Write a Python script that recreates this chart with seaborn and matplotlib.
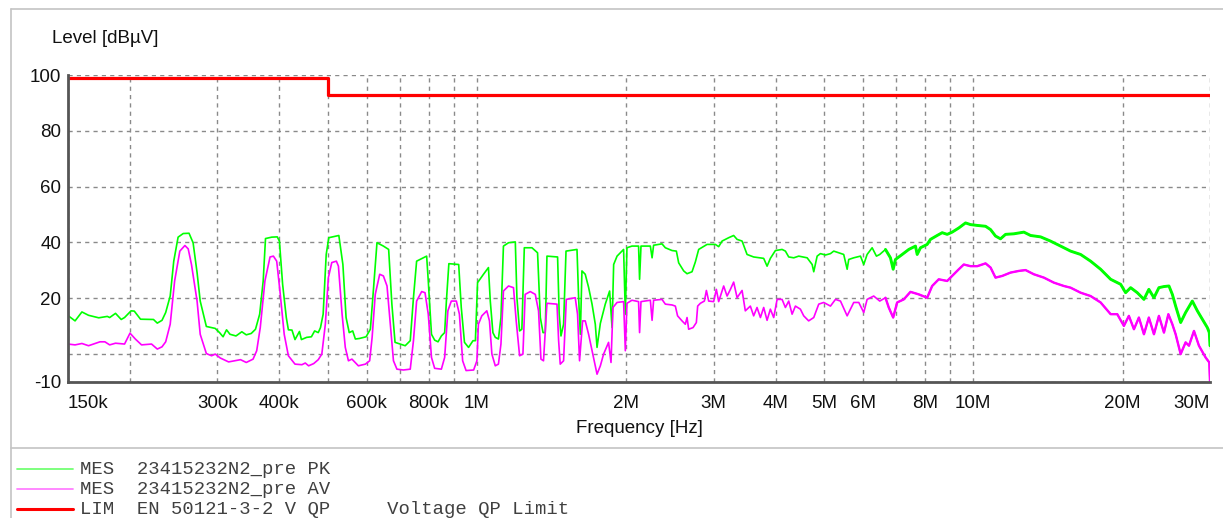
import numpy as np
import pandas as pd
import matplotlib.pyplot as plt
import seaborn as sns
from matplotlib.lines import Line2D
from matplotlib.ticker import FixedLocator, FixedFormatter, NullLocator

# Peak trace (frequency in MHz, level in dBuV)
pk_freq_mhz = [
    0.150, 0.155, 0.160, 0.165, 0.173, 0.180, 0.182, 0.187, 0.192, 0.195,
    0.201, 0.204, 0.210, 0.223, 0.227, 0.232, 0.236, 0.241, 0.245, 0.250,
    0.256, 0.263, 0.268, 0.273, 0.277, 0.285, 0.297, 0.303, 0.308, 0.313,
    0.318, 0.327, 0.336, 0.343, 0.351, 0.358, 0.365, 0.371, 0.375, 0.386,
    0.396, 0.400, 0.406, 0.413, 0.417, 0.424, 0.430, 0.439, 0.443, 0.454,
    0.464, 0.471, 0.479, 0.484, 0.490, 0.497, 0.503, 0.527, 0.537, 0.545,
    0.553, 0.562, 0.569, 0.580, 0.598, 0.610, 0.617, 0.629, 0.648, 0.664,
    0.674, 0.684, 0.700, 0.717, 0.734, 0.745, 0.756, 0.792, 0.798, 0.810,
    0.822, 0.835, 0.848, 0.861, 0.868, 0.878, 0.919, 0.930, 0.944, 0.962,
    0.982, 0.993, 1.003, 1.031, 1.055, 1.064, 1.077, 1.089, 1.105, 1.118,
    1.131, 1.158, 1.195, 1.204, 1.219, 1.232, 1.246, 1.291, 1.325, 1.342,
    1.359, 1.373, 1.384, 1.454, 1.465, 1.477, 1.495, 1.512, 1.591, 1.603,
    1.616, 1.628, 1.653, 1.679, 1.706, 1.732, 1.746, 1.773, 1.814, 1.851,
    1.872, 1.886, 1.916, 1.975, 1.991, 2.006, 2.053, 2.117, 2.127, 2.141,
    2.236, 2.254, 2.270, 2.360, 2.397, 2.473, 2.523, 2.550, 2.610, 2.651,
    2.713, 2.755, 2.798, 2.909, 3.023, 3.070, 3.119, 3.216, 3.291, 3.344,
    3.422, 3.502, 3.611, 3.783, 3.843, 3.902, 3.994, 4.120, 4.184, 4.249,
    4.349, 4.451, 4.628, 4.737, 4.772, 4.848, 4.922, 5.038, 5.157, 5.236,
    5.358, 5.484, 5.572, 5.613, 5.745, 5.927, 6.018, 6.113, 6.257, 6.383,
    6.482, 6.656, 6.812, 6.898, 6.971, 7.193, 7.417, 7.650, 7.711, 7.830,
    8.077, 8.201, 8.460, 8.659, 8.863, 9.071, 9.354, 9.650, 9.876, 10.19,
    10.59, 10.84, 11.09, 11.35, 11.62, 12.08, 12.65, 13.05, 13.67, 14.31,
    15.00, 15.71, 16.46, 17.24, 18.06, 18.92, 19.82, 20.28, 20.76, 21.41,
    22.08, 22.59, 23.13, 23.67, 24.23, 24.80, 25.19, 25.58, 26.18, 26.79,
    27.64, 28.29, 28.95, 29.63, 29.90, 30.00,
]
pk_level = [
    13.8, 11.9, 15.1, 13.9, 13.0, 13.5, 13.1, 14.6, 12.4, 13.1,
    15.5, 15.4, 12.5, 12.4, 11.1, 12.1, 14.9, 20.8, 33.3, 41.9,
    43.2, 43.3, 39.9, 29.2, 19.0, 9.9, 9.2, 7.7, 6.2, 8.7,
    7.1, 6.5, 8.0, 6.9, 7.4, 8.9, 14.3, 26.2, 41.4, 41.9,
    42.0, 40.5, 25.0, 13.1, 8.7, 8.6, 5.2, 8.1, 5.2, 6.0,
    6.2, 8.3, 7.7, 9.5, 14.3, 35.7, 41.7, 42.5, 32.1, 13.1,
    7.7, 8.3, 5.4, 5.6, 6.2, 8.9, 20.2, 39.9, 38.7, 37.5,
    17.9, 4.2, 3.6, 3.0, 4.8, 20.2, 33.3, 35.1, 26.2, 7.1,
    5.0, 4.4, 6.5, 7.7, 19.0, 32.4, 32.1, 16.7, 4.2, 2.4,
    4.8, 4.8, 25.6, 28.6, 31.0, 19.0, 7.7, 6.0, 5.4, 13.1,
    38.7, 39.9, 40.2, 20.2, 8.3, 8.9, 38.1, 38.1, 36.3, 13.1,
    7.7, 7.7, 35.1, 34.8, 14.3, 6.5, 10.7, 36.9, 37.5, 20.2,
    7.1, 29.8, 28.6, 23.9, 17.9, 10.7, 2.4, 11.0, 17.9, 22.6,
    9.5, 32.1, 35.1, 37.5, 14.3, 38.1, 38.7, 38.7, 26.8, 38.7,
    38.7, 34.5, 39.0, 39.5, 38.1, 37.1, 36.9, 32.7, 29.8, 28.8,
    29.5, 33.0, 37.5, 39.3, 39.3, 38.5, 40.5, 41.7, 42.5, 41.1,
    40.5, 35.7, 34.8, 34.3, 31.5, 34.3, 37.1, 37.5, 36.9, 34.8,
    34.5, 35.1, 34.5, 32.1, 29.5, 35.1, 36.0, 35.5, 36.0, 36.9,
    36.3, 35.7, 30.4, 33.9, 34.5, 35.1, 32.1, 35.7, 38.1, 35.1,
    35.7, 37.5, 34.5, 30.4, 33.9, 35.7, 37.5, 38.7, 35.7, 38.1,
    39.3, 41.1, 42.5, 43.5, 42.9, 43.7, 45.2, 47.0, 46.4, 46.1,
    45.8, 44.6, 42.3, 41.3, 42.9, 43.1, 43.7, 42.5, 42.0, 40.5,
    38.7, 36.9, 35.7, 33.3, 30.4, 26.8, 25.0, 22.0, 23.8, 22.0,
    19.6, 23.2, 20.2, 23.8, 24.2, 24.4, 21.4, 17.2, 11.3, 14.9,
    19.0, 15.5, 12.5, 9.5, 7.7, 3.0,
]

# Average trace
av_freq_mhz = [
    0.150, 0.155, 0.160, 0.165, 0.174, 0.178, 0.182, 0.187, 0.195, 0.200,
    0.205, 0.211, 0.221, 0.227, 0.232, 0.236, 0.241, 0.246, 0.252, 0.258,
    0.262, 0.266, 0.273, 0.277, 0.285, 0.292, 0.297, 0.304, 0.316, 0.334,
    0.343, 0.354, 0.360, 0.366, 0.374, 0.383, 0.389, 0.395, 0.401, 0.409,
    0.417, 0.430, 0.444, 0.451, 0.458, 0.469, 0.479, 0.487, 0.495, 0.502,
    0.510, 0.521, 0.526, 0.535, 0.543, 0.551, 0.560, 0.577, 0.596, 0.608,
    0.615, 0.624, 0.637, 0.648, 0.659, 0.669, 0.679, 0.690, 0.711, 0.734,
    0.745, 0.756, 0.774, 0.786, 0.798, 0.810, 0.822, 0.848, 0.861, 0.874,
    0.888, 0.909, 0.922, 0.936, 0.951, 0.985, 1.000, 1.007, 1.023, 1.047,
    1.060, 1.072, 1.089, 1.105, 1.118, 1.131, 1.158, 1.185, 1.200, 1.219,
    1.238, 1.251, 1.281, 1.311, 1.331, 1.346, 1.362, 1.384, 1.450, 1.461,
    1.472, 1.495, 1.514, 1.578, 1.595, 1.610, 1.633, 1.653, 1.679, 1.718,
    1.746, 1.773, 1.800, 1.842, 1.863, 1.880, 1.916, 1.975, 1.991, 2.006,
    2.053, 2.117, 2.127, 2.141, 2.236, 2.254, 2.270, 2.360, 2.397, 2.473,
    2.511, 2.537, 2.590, 2.630, 2.651, 2.671, 2.726, 2.768, 2.785, 2.820,
    2.873, 2.900, 2.931, 2.999, 3.037, 3.070, 3.142, 3.192, 3.242, 3.291,
    3.344, 3.422, 3.474, 3.556, 3.611, 3.668, 3.726, 3.783, 3.843, 3.902,
    3.963, 4.026, 4.120, 4.184, 4.249, 4.316, 4.383, 4.485, 4.555, 4.661,
    4.772, 4.884, 4.998, 5.157, 5.278, 5.402, 5.572, 5.745, 5.881, 6.018,
    6.113, 6.303, 6.482, 6.656, 6.758, 6.898, 7.027, 7.246, 7.474, 7.767,
    8.077, 8.266, 8.522, 8.863, 9.138, 9.354, 9.573, 9.876, 10.19, 10.59,
    10.84, 11.09, 11.44, 11.89, 12.36, 12.75, 13.25, 13.88, 14.54, 15.23,
    15.71, 16.46, 17.24, 18.06, 18.92, 19.51, 20.12, 20.59, 21.08, 21.57,
    22.08, 22.59, 23.13, 23.67, 24.23, 24.73, 25.19, 25.58, 26.18, 26.79,
    27.21, 27.85, 28.50, 29.39, 29.90, 30.00,
]
av_level = [
    3.6, 3.3, 3.8, 3.0, 4.4, 4.4, 3.3, 3.9, 3.6, 7.5,
    5.4, 3.3, 3.6, 1.8, 2.6, 4.4, 10.7, 26.2, 36.9, 38.9,
    37.7, 32.1, 19.0, 7.1, 0.2, -0.6, 0.0, -1.4, -2.8, -2.0,
    -3.0, -1.8, 1.2, 9.5, 26.2, 34.8, 35.1, 33.3, 22.6, 7.1,
    -0.6, -3.6, -3.8, -3.2, -4.2, -3.4, -2.0, 0.0, 10.7, 27.4,
    32.8, 33.3, 31.5, 14.3, 2.4, -2.4, -1.8, -4.2, -3.6, -2.4,
    6.0, 21.4, 28.6, 28.0, 24.4, 10.7, -2.4, -5.4, -5.7, -5.4,
    4.8, 19.0, 22.4, 22.0, 14.3, -1.2, -5.1, -5.4, -1.2, 15.5,
    19.0, 19.0, 14.3, -2.4, -5.9, -5.7, -2.4, 10.7, 13.7, 15.5,
    11.9, 0.0, -4.2, -3.6, 3.6, 22.6, 24.4, 23.8, 11.9, -0.6,
    0.0, 21.4, 22.4, 21.4, 15.5, -1.8, -2.4, 18.2, 17.9, 4.8,
    -3.6, -2.4, 19.6, 20.2, 14.3, -2.4, 11.9, 11.9, 7.1, -1.2,
    -7.2, -4.2, 0.0, 4.2, -3.0, 16.7, 18.5, 18.8, 1.2, 18.2,
    19.3, 18.8, 7.7, 18.8, 19.3, 12.1, 19.3, 19.6, 17.9, 17.6,
    17.2, 13.7, 11.9, 10.7, 13.1, 8.9, 9.5, 11.3, 17.2, 18.2,
    19.0, 22.8, 19.0, 18.8, 23.2, 18.8, 24.4, 20.8, 23.2, 25.8,
    20.2, 22.8, 15.5, 17.2, 13.7, 16.7, 13.1, 16.7, 12.1, 16.1,
    13.1, 19.6, 19.6, 16.7, 19.0, 14.3, 17.2, 16.1, 13.7, 11.9,
    13.1, 17.9, 18.5, 17.2, 19.6, 19.0, 13.7, 18.5, 18.5, 14.9,
    19.6, 20.8, 19.0, 20.2, 16.7, 13.1, 18.5, 19.6, 22.3, 21.4,
    20.2, 24.4, 26.8, 26.2, 28.6, 30.4, 32.1, 31.5, 31.5, 32.5,
    31.0, 27.4, 28.0, 29.2, 29.8, 30.1, 28.6, 27.4, 25.6, 24.4,
    23.8, 22.0, 20.8, 18.5, 14.3, 14.3, 10.1, 13.7, 8.9, 13.1,
    7.1, 13.1, 7.1, 13.7, 7.7, 14.3, 10.7, 7.1, 0.0, 4.2,
    3.0, 8.3, 3.0, -1.2, -3.0, -9.9,
]

# EN 50121-3-2 QP limit (steps)
lim_freq_mhz = [0.15, 0.5, 30.0]
lim_level = [99.0, 93.0, 93.0]

x_ticks_mhz = [0.15, 0.2, 0.3, 0.4, 0.5, 0.6, 0.7, 0.8, 0.9,
               1, 2, 3, 4, 5, 6, 7, 8, 9, 10, 20, 30]
x_tick_labels = ["150k", "", "300k", "400k", "", "600k", "", "800k", "",
                 "1M", "2M", "3M", "4M", "5M", "6M", "", "8M", "", "10M", "20M", "30M"]
y_ticks = [-10, 0, 20, 40, 60, 80, 100]
y_tick_labels = ["-10", "", "20", "40", "60", "80", "100"]

legend_labels = ["MES  23415232N2_pre PK",
                 "MES  23415232N2_pre AV",
                 "LIM  EN 50121-3-2 V QP     Voltage QP Limit"]
pk_color = "#00ff00"
av_color = "#ff00ff"
lim_color = "#ff0000"

sns.set_style("white")
plt.rcParams["font.family"] = ["Liberation Sans", "DejaVu Sans"]

pk = pd.DataFrame({"freq": np.array(pk_freq_mhz) * 1e6, "level": pk_level})
av = pd.DataFrame({"freq": np.array(av_freq_mhz) * 1e6, "level": av_level})
lim = pd.DataFrame({"freq": np.array(lim_freq_mhz) * 1e6, "level": lim_level})

W, H = 1223, 518
fig = plt.figure(figsize=(W / 100, H / 100), dpi=100)
fig.patch.set_facecolor("white")
ax = fig.add_axes([68 / W, 1 - 382 / H, (1210 - 68) / W, (382 - 75) / H])
ax.set_xscale("log")

sns.lineplot(data=pk, x="freq", y="level", ax=ax, color=pk_color, lw=1.2,
             estimator=None, sort=False)
sns.lineplot(data=av, x="freq", y="level", ax=ax, color=av_color, lw=1.2,
             estimator=None, sort=False)
# the upper band is a dense noisy sweep: draw it with a fatter pen
sns.lineplot(data=pk[pk["freq"] >= 6.5e6], x="freq", y="level", ax=ax,
             color=pk_color, lw=2.1, estimator=None, sort=False)
sns.lineplot(data=av[av["freq"] >= 6.5e6], x="freq", y="level", ax=ax,
             color=av_color, lw=1.7, estimator=None, sort=False)
sns.lineplot(data=lim, x="freq", y="level", ax=ax, color=lim_color, lw=2.3,
             estimator=None, sort=False, drawstyle="steps-post")

ax.set_xlim(0.15e6, 30e6)
ax.set_ylim(-10, 100)
ax.xaxis.set_major_locator(FixedLocator([f * 1e6 for f in x_ticks_mhz]))
ax.xaxis.set_major_formatter(FixedFormatter(x_tick_labels))
ax.xaxis.set_minor_locator(NullLocator())
ax.yaxis.set_major_locator(FixedLocator(y_ticks))
ax.yaxis.set_major_formatter(FixedFormatter(y_tick_labels))
ax.tick_params(axis="both", length=0, labelsize=13.5, colors="#111111")
ax.tick_params(axis="x", pad=9)
ax.tick_params(axis="y", pad=5)
labels = ax.get_xticklabels()
labels[0].set_ha("left")
labels[-1].set_ha("right")

ax.grid(True, which="major", color="#8a8a8a", linestyle=(0, (3, 3)), lw=1)
ax.set_axisbelow(True)
for side in ["top", "right"]:
    ax.spines[side].set_visible(False)
for side in ["left", "bottom"]:
    ax.spines[side].set_color("#555555")
    ax.spines[side].set_linewidth(2)
ax.set_xlabel("")
ax.set_ylabel("")

fig.text(52 / W, 1 - 43 / H, "Level [dB\u00b5V]", fontsize=13.5, ha="left",
         va="baseline", color="#111111")
fig.text(639 / W, 1 - 433 / H, "Frequency [Hz]", fontsize=13.5, ha="center",
         va="baseline", color="#111111")

# outer frame and legend separator
frame_kw = dict(color="#c4c4c4", lw=1.2, transform=fig.transFigure)
fig.add_artist(Line2D([11 / W, 1], [1 - 9 / H, 1 - 9 / H], **frame_kw))
fig.add_artist(Line2D([11 / W, 11 / W], [0, 1 - 9 / H], **frame_kw))
fig.add_artist(Line2D([11 / W, 1], [1 - 448 / H, 1 - 448 / H], **frame_kw))

# legend block
leg_colors = [pk_color, av_color, lim_color]
leg_widths = [1.3, 1.3, 2.2]
leg_alpha = [0.55, 0.5, 1.0]
leg_line_y = [469, 489, 509]
leg_text_y = [474, 494, 514]
for lab, col, lw_, al, ly, ty in zip(legend_labels, leg_colors, leg_widths, leg_alpha,
                                     leg_line_y, leg_text_y):
    fig.add_artist(Line2D([17 / W, 73 / W], [1 - ly / H, 1 - ly / H], color=col,
                          lw=lw_, alpha=al, transform=fig.transFigure))
    fig.text(80 / W, 1 - ty / H, lab, fontsize=13.6, family="Liberation Mono",
             ha="left", va="baseline", color="#404040")

fig.savefig("out.png", dpi=100)
